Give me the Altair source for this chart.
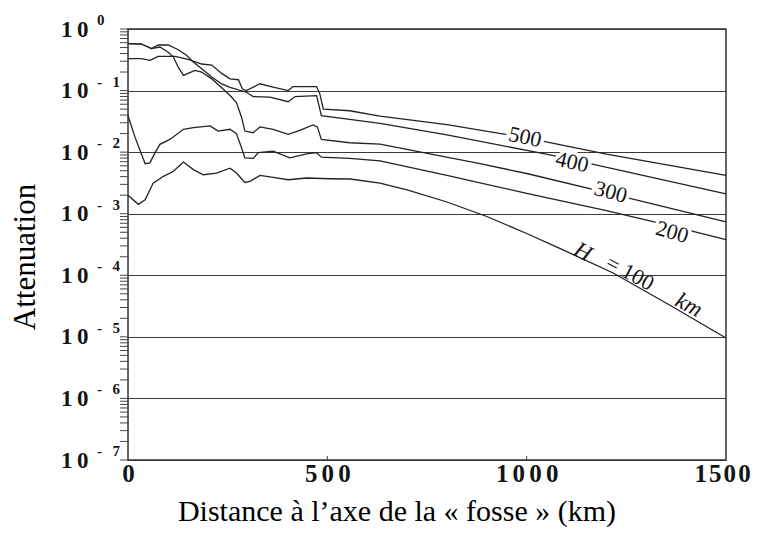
import altair as alt
import pandas as pd

# ---------------- data ----------------
series_names = ["500", "400", "300", "200", "100"]

km_500 = [0, 34, 55, 76, 118, 151, 185, 210, 235, 256, 277, 287, 297, 331, 364, 402, 414, 473, 481, 490, 556, 632, 800, 1000, 1200, 1500]
att_500 = [0.33, 0.33, 0.31, 0.36, 0.36, 0.32, 0.27, 0.26, 0.19, 0.155, 0.15, 0.106, 0.10, 0.129, 0.114, 0.10, 0.116, 0.116, 0.089, 0.050, 0.047, 0.0386, 0.028, 0.017, 0.0093, 0.0042]

km_400 = [0, 34, 59, 76, 101, 126, 147, 164, 185, 210, 235, 256, 297, 314, 356, 402, 419, 473, 485, 556, 632, 800, 1049, 1159, 1500]
att_400 = [0.58, 0.57, 0.48, 0.55, 0.55, 0.46, 0.375, 0.29, 0.226, 0.166, 0.128, 0.113, 0.094, 0.080, 0.078, 0.066, 0.080, 0.083, 0.039, 0.034, 0.0294, 0.019, 0.0093, 0.0065, 0.0021]

km_300 = [0, 34, 59, 80, 101, 114, 126, 139, 168, 185, 210, 235, 256, 272, 285, 293, 314, 331, 364, 402, 431, 464, 475, 485, 556, 632, 883, 1000, 1200, 1500]
att_300 = [0.58, 0.57, 0.48, 0.51, 0.42, 0.35, 0.24, 0.176, 0.213, 0.20, 0.155, 0.111, 0.083, 0.064, 0.0366, 0.022, 0.0207, 0.0257, 0.0235, 0.0195, 0.0226, 0.0277, 0.0257, 0.0161, 0.0142, 0.0135, 0.0065, 0.0045, 0.0022, 0.00074]

km_200 = [0, 18, 43, 55, 68, 80, 105, 139, 164, 206, 226, 256, 272, 285, 293, 314, 327, 364, 406, 448, 473, 485, 556, 632, 800, 1000, 1200, 1365, 1500]
att_200 = [0.039, 0.0172, 0.0065, 0.0067, 0.0098, 0.0134, 0.0161, 0.0235, 0.025, 0.0267, 0.022, 0.0235, 0.020, 0.0117, 0.0081, 0.0079, 0.0098, 0.0104, 0.0081, 0.0094, 0.0098, 0.0083, 0.0079, 0.0072, 0.0042, 0.00214, 0.00112, 0.00063, 0.00038]

km_100 = [0, 26, 43, 63, 89, 114, 139, 164, 189, 222, 256, 272, 293, 306, 331, 364, 402, 448, 506, 557, 632, 700, 800, 900, 1000, 1083, 1217, 1354, 1500]
att_100 = [0.0020, 0.00142, 0.00168, 0.00314, 0.00405, 0.0049, 0.0069, 0.0052, 0.0043, 0.00458, 0.0055, 0.00458, 0.00322, 0.00335, 0.0042, 0.0039, 0.00356, 0.0038, 0.0037, 0.00366, 0.00315, 0.00243, 0.00155, 0.000901, 0.000477, 0.000274, 0.000109, 3.42e-5, 9.6e-6]

# curve labels (text, km, attenuation, angle, italic)
label_text = ["500", "400", "300", "200", "H", "= 100", "km"]
label_km = [996, 1114, 1211, 1365, 1141, 1259, 1407]
label_att = [0.0176, 0.0069, 0.00225, 0.000505, 0.000239, 0.000109, 3.29e-5]
label_angle = [12, 13, 15, 16, 28, 28, 28]
label_italic = [False, False, False, False, True, False, True]

# axis ticks and labels
x_ticks = [0, 500, 1000, 1500]
y_decades = [1, 1e-1, 1e-2, 1e-3, 1e-4, 1e-5, 1e-6, 1e-7]
y_exponents = ["0", "-\u2002\u20091", "-\u2002\u20092", "-\u2002\u20093", "-\u2002\u20094", "-\u2002\u20095", "-\u2002\u20096", "-\u2002\u20097"]
y_minor = [m * d for d in [1e-1, 1e-2, 1e-3, 1e-4, 1e-5, 1e-6, 1e-7] for m in range(1, 10)] + [1]

x_title = "Distance à l\u2019axe de la « fosse » (km)"
y_title = "Attenuation"

# ---------------- build tables ----------------
frames = []
for name, k, a in [("500", km_500, att_500), ("400", km_400, att_400), ("300", km_300, att_300),
                   ("200", km_200, att_200), ("100", km_100, att_100)]:
    frames.append(pd.DataFrame({"km": k, "att": a, "H": name, "o": range(len(k))}))
curves = pd.concat(frames, ignore_index=True)

labels = pd.DataFrame({"t": label_text, "km": label_km, "att": label_att,
                       "ang": label_angle, "it": label_italic})
num_labels = labels.iloc[:4]
up_labels = labels[~labels["it"]]
it_labels = labels[labels["it"]]

exps = pd.DataFrame({"att": y_decades, "t": y_exponents})
minor = pd.DataFrame({"att": y_minor})
xt = pd.DataFrame({"km": x_ticks[1:3]})
titles = pd.DataFrame({"t": [x_title]})
titles_y = pd.DataFrame({"t": [y_title]})

W, Hh = 598, 431
SERIF = "Liberation Serif"
INK = "#141414"

xscale = alt.Scale(domain=[0, 1500], nice=False, zero=False)
yscale = alt.Scale(type="log", domain=[1e-7, 1], nice=False)

xaxis = alt.Axis(values=x_ticks, format="d",
                 labelExpr="datum.value == 1500 ? join(split(datum.label, ''), '\u200a') : join(split(datum.label, ''), '\u2006')",
                 labelOffset={"condition": {"test": "datum.value == 1500", "value": -4}, "value": 0},
                 labelFont=SERIF, labelFontWeight="bold", labelFontSize=25,
                 labelColor=INK, labelPadding=1, labelBaseline="top",
                 ticks=False, tickSize=0, domain=False, grid=False, title=None,
                 labelFlush=False, labelOverlap=False)
yaxis = alt.Axis(values=y_decades, labelExpr="'1\u20090'",
                 labelFont=SERIF, labelFontWeight="bold", labelFontSize=23,
                 labelColor=INK, labelPadding=40, labelBaseline="middle",
                 ticks=False, tickSize=0, domain=False, grid=True,
                 gridColor="#3a3a3a", gridWidth=1.1, title=None,
                 labelFlush=False, labelOverlap=False)

X = alt.X("km:Q", scale=xscale, axis=xaxis)
Y = alt.Y("att:Q", scale=yscale, axis=yaxis)

lines = alt.Chart(curves).mark_line(color="#222", strokeWidth=1.3).encode(
    x=X, y=Y, detail="H:N", order="o:Q")

minor_ticks = alt.Chart(minor).mark_rule(color="#444", strokeWidth=1).encode(
    y=Y, x=alt.value(-8), x2=alt.value(1))

x_tick_marks = alt.Chart(xt).mark_rule(color="#444", strokeWidth=1).encode(
    x=X, y=alt.value(Hh), y2=alt.value(Hh - 4))

halo = alt.Chart(num_labels).mark_text(
    font=SERIF, fontSize=22, fill="white", stroke="white", strokeWidth=7,
    align="center", baseline="middle").encode(
    x=X, y=Y, text="t:N", angle=alt.Angle("ang:Q", scale=None))

up_text = alt.Chart(up_labels).mark_text(
    font=SERIF, fontSize=22, color=INK, align="center", baseline="middle").encode(
    x=X, y=Y, text="t:N", angle=alt.Angle("ang:Q", scale=None))

it_text = alt.Chart(it_labels).mark_text(
    font=SERIF, fontSize=23, fontStyle="italic", color=INK,
    align="center", baseline="middle").encode(
    x=X, y=Y, text="t:N", angle=alt.Angle("ang:Q", scale=None))

exp_text = alt.Chart(exps).mark_text(
    font=SERIF, fontSize=15, fontWeight="bold", color=INK,
    align="left", baseline="middle", dy=-9).encode(
    y=Y, x=alt.value(-31), text="t:N")

xtitle = alt.Chart(titles).mark_text(
    font=SERIF, fontSize=30, color="#000", align="center", baseline="alphabetic").encode(
    x=alt.value(269), y=alt.value(492), text="t:N")

ytitle = alt.Chart(titles_y).mark_text(
    font=SERIF, fontSize=31, color="#000", align="center", baseline="middle", angle=270).encode(
    x=alt.value(-102), y=alt.value(228), text="t:N")

chart = alt.layer(
    lines, minor_ticks, x_tick_marks, halo, up_text, it_text, exp_text, xtitle, ytitle
).properties(
    width=W, height=Hh,
    padding={"left": 120, "top": 21, "right": 25, "bottom": 68},
    autosize=alt.AutoSizeParams(type="none"),
    background="white",
).configure_view(
    stroke="#333", strokeWidth=1.5
)

chart.save("out.html", embed_options={"renderer": "svg", "actions": False})
